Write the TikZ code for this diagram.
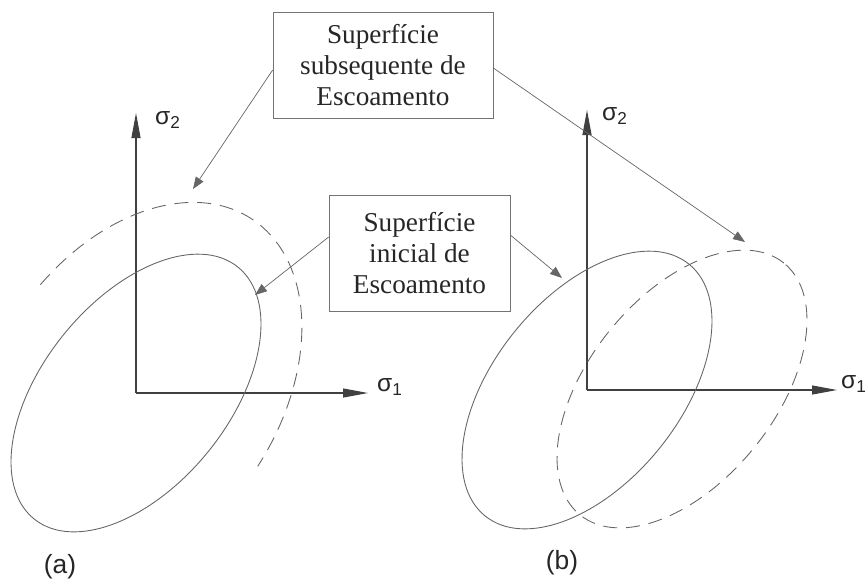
\documentclass[tikz,border=0pt]{standalone}
\usepackage{fontspec}
\setmainfont{Liberation Serif}
\setsansfont{Liberation Sans}
\usetikzlibrary{arrows.meta,calc}

\tikzset{
  caixa/.style={draw=black!55, align=center, inner sep=0pt, text=black!85,
    font=\fontsize{15.5}{17.5}\selectfont},
  eixo/.style={draw=black!75, line width=0.6pt, -{Triangle[length=0.5cm,width=0.18cm]}},
  seta/.style={draw=black!60, line width=0.4pt, -{Triangle[length=0.24cm,width=0.18cm]}},
  curva/.style={draw=black!60, line width=0.5pt},
  tracejada/.style={curva, dash pattern=on 8pt off 5pt},
  rotulo/.style={font=\sffamily\fontsize{14}{14}\selectfont, text=black!85},
}

\begin{document}
\begin{tikzpicture}[x=0.02cm, y=0.02cm]
    \useasboundingbox (0,0) rectangle (866,-583);

    % Caixas de texto
    \node[caixa, minimum width=4.4cm, minimum height=2.12cm] (subseq) at (383,-65)
        {Superfície\\subsequente de\\Escoamento};
    \node[caixa, minimum width=3.62cm, minimum height=2.32cm] (inicial) at (419.5,-253)
        {Superfície\\inicial de\\Escoamento};

    % (a) eixos
    \coordinate (oa) at (136,-393);
    \coordinate (ya) at (136,-113);
    \coordinate (xa) at (368,-393);
    \draw[eixo] (oa) -- (ya);
    \draw[eixo] (oa) -- (xa);
    \node[rotulo] (s2a) at (168,-120) {σ\textsubscript{2}};
    \node[rotulo, anchor=west] (s1a) at (371,-387) {σ\textsubscript{1}};

    % (a) superficies: inicial e expandida
    \begin{scope}[shift={(oa)}, rotate=51]
        \draw[curva] (0,0) ellipse [x radius=162, y radius=93];
    \end{scope}
    \begin{scope}[shift={(oa)}, rotate=56]
        \draw[tracejada] (80:209 and 142) arc[start angle=80, end angle=-88, x radius=209, y radius=142];
    \end{scope}

    % (b) eixos
    \coordinate (ob) at (587,-390);
    \coordinate (yb) at (587,-110);
    \coordinate (xb) at (837,-390);
    \draw[eixo] (ob) -- (yb);
    \draw[eixo] (ob) -- (xb);
    \node[rotulo] (s2b) at (615,-116) {σ\textsubscript{2}};
    \node[rotulo, anchor=west, inner sep=1pt] (s1b) at (839,-384) {σ\textsubscript{1}};

    % (b) superficies: inicial e transladada
    \begin{scope}[shift={(ob)}, rotate=51]
        \draw[curva] (0,0) ellipse [x radius=162, y radius=93];
    \end{scope}
    \begin{scope}[shift={(682,-389)}, rotate=51]
        \draw[tracejada] (0,0) ellipse [x radius=162, y radius=93];
    \end{scope}

    % Setas indicadoras
    \coordinate (ta) at (193,-189);
    \coordinate (tb) at (255,-295);
    \coordinate (tc) at (745,-242);
    \coordinate (td) at (562,-278);
    \draw[seta] ([yshift=-0.1cm]subseq.west) -- (ta);
    \draw[seta] ([yshift=0.32cm]inicial.west) -- (tb);
    \draw[seta] ([yshift=-0.06cm]subseq.east) -- (tc);
    \draw[seta] ([yshift=0.36cm]inicial.east) -- (td);

    % Legendas
    \node[rotulo, font=\sffamily\fontsize{15}{15}\selectfont] (la) at (60,-567) {(a)};
    \node[rotulo, font=\sffamily\fontsize{15}{15}\selectfont] (lb) at (562,-563) {(b)};
\end{tikzpicture}
\end{document}
